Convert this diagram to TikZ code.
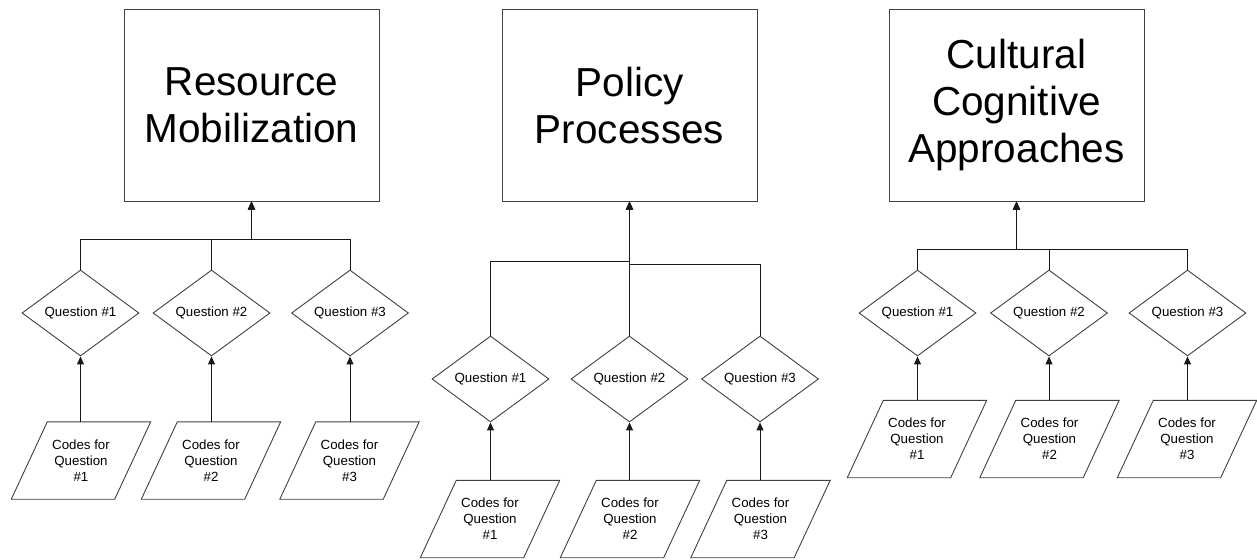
\documentclass[tikz,border=0pt]{standalone}
\usepackage{fontspec}
\setmainfont{Liberation Sans}
\usetikzlibrary{shapes.geometric,arrows.meta,calc}
\tikzset{
  bigbox/.style={draw=black!75, line width=1pt, fill=white, minimum width=255pt, minimum height=191pt,
    align=center, inner sep=0pt, font=\fontsize{40.5}{47}\selectfont},
  qdiamond/.style={diamond, draw=black!75, line width=0.9pt, aspect=1.36, minimum width=117pt,
    minimum height=86pt, inner sep=0pt, font=\fontsize{13.3}{16}\selectfont},
  codebox/.style={draw=none, minimum width=139pt, minimum height=77pt, inner sep=0pt,
    align=center, font=\fontsize{13.3}{16}\selectfont},
  pgram/.style={draw=black!75, line width=0.9pt},
  arr/.style={draw=black!90, line width=1pt, -{Triangle[length=8pt,width=7pt]}},
}
\newcommand{\pgramof}[1]{%
  \draw[pgram] ([xshift=36pt]#1.north west) -- (#1.north east)
    -- ([xshift=-36pt]#1.south east) -- (#1.south west) -- cycle;}
\begin{document}
\begin{tikzpicture}[x=1pt,y=-1pt]
\useasboundingbox (0,0) rectangle (1257,559);
% ---------------- Group 1
\node[bigbox] (b1) at (251.5,105.5) {Resource\\Mobilization};
\node[qdiamond] (q11) at (80.5,313) {Question \#1};
\node[qdiamond] (q12) at (211.5,313) {Question \#2};
\node[qdiamond] (q13) at (350,313) {Question \#3};
\node[codebox] (p11) at (81,460.5) {Codes for\\Question\\\#1};
\node[codebox] (p12) at (211,460.5) {Codes for\\Question\\\#2};
\node[codebox] (p13) at (349.5,460.5) {Codes for\\Question\\\#3};
\pgramof{p11}\pgramof{p12}\pgramof{p13}
\coordinate (j1) at ($(b1.south)+(0,38)$);
\draw[arr] (q11.north) |- (j1) -- (b1.south);
\draw[arr] (q12.north) |- (j1) -- (b1.south);
\draw[arr] (q13.north) |- (j1) -- (b1.south);
\draw[arr] (p11.north -| q11.south) -- (q11.south);
\draw[arr] (p12.north -| q12.south) -- (q12.south);
\draw[arr] (p13.north -| q13.south) -- (q13.south);
% ---------------- Group 2
\node[bigbox] (b2) at (629.5,105.5) {Policy\\Processes};
\node[qdiamond] (q21) at (490.5,379) {Question \#1};
\node[qdiamond] (q22) at (629.5,379) {Question \#2};
\node[qdiamond] (q23) at (760,379) {Question \#3};
\node[codebox] (p21) at (490,519) {Codes for\\Question\\\#1};
\node[codebox] (p22) at (630,519) {Codes for\\Question\\\#2};
\node[codebox] (p23) at (760.5,519) {Codes for\\Question\\\#3};
\pgramof{p21}\pgramof{p22}\pgramof{p23}
\coordinate (j2l) at ($(b2.south)+(0,60)$);
\coordinate (j2r) at ($(b2.south)+(0,63)$);
\draw[arr] (q21.north) |- (j2l) -- (b2.south);
\draw[arr] (q22.north) -- (b2.south);
\draw[arr] (q23.north) |- (j2r) -- (b2.south);
\draw[arr] (p21.north -| q21.south) -- (q21.south);
\draw[arr] (p22.north -| q22.south) -- (q22.south);
\draw[arr] (p23.north -| q23.south) -- (q23.south);
% ---------------- Group 3
\node[bigbox] (b3) at (1016.5,105.5) {Cultural\\Cognitive\\Approaches};
\node[qdiamond] (q31) at (917.5,313) {Question \#1};
\node[qdiamond] (q32) at (1049,313) {Question \#2};
\node[qdiamond] (q33) at (1187.5,313) {Question \#3};
\node[codebox] (p31) at (917,439) {Codes for\\Question\\\#1};
\node[codebox] (p32) at (1049.5,439) {Codes for\\Question\\\#2};
\node[codebox] (p33) at (1187,439) {Codes for\\Question\\\#3};
\pgramof{p31}\pgramof{p32}\pgramof{p33}
\coordinate (j3) at ($(b3.south)+(0,48)$);
\draw[arr] (q31.north) |- (j3) -- (b3.south);
\draw[arr] (q32.north) |- (j3) -- (b3.south);
\draw[arr] (q33.north) |- (j3) -- (b3.south);
\draw[arr] (p31.north -| q31.south) -- (q31.south);
\draw[arr] (p32.north -| q32.south) -- (q32.south);
\draw[arr] (p33.north -| q33.south) -- (q33.south);
\end{tikzpicture}
\end{document}
